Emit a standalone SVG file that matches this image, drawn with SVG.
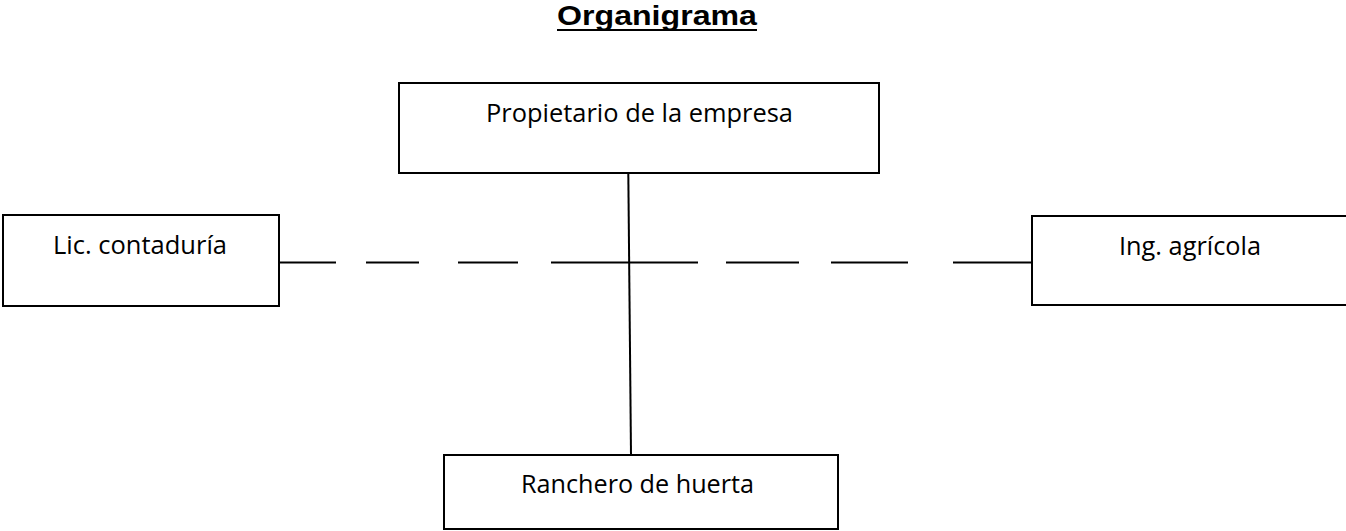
<svg xmlns="http://www.w3.org/2000/svg" width="1346" height="531" viewBox="0 0 1346 531">
<style>
.box{fill:#fff;stroke:#000;stroke-width:2}
.lbl{font-family:"Open Sans","Liberation Sans",sans-serif;font-size:26px;fill:#000}
.ln{stroke:#000;stroke-width:2;fill:none}
</style>
<rect width="1346" height="531" fill="#fff"/>
<g id="title">
<text x="557" y="25" font-family="Liberation Sans, Arial, sans-serif" font-weight="bold" font-size="28" textLength="200" lengthAdjust="spacingAndGlyphs">Organigrama</text>
<line x1="557" y1="30" x2="757" y2="30" stroke="#000" stroke-width="2.2"/>
</g>
<g id="connectors">
<path class="ln" d="M628.3 173 L631 455"/>
<path class="ln" d="M279 262.5H336M366 262.5H419M458 262.5H518M551 262.5H698M726 262.5H799M831 262.5H908M953 262.5H1032"/>
</g>
<g id="propietario">
<rect class="box" x="399" y="83" width="480" height="90"/>
<text class="lbl" x="486" y="122" textLength="307" lengthAdjust="spacingAndGlyphs">Propietario de la empresa</text>
</g>
<g id="contaduria">
<rect class="box" x="3" y="215" width="276" height="91"/>
<text class="lbl" x="53" y="254" textLength="174" lengthAdjust="spacingAndGlyphs">Lic. contaduría</text>
</g>
<g id="agricola">
<rect class="box" x="1032" y="216" width="330" height="89"/>
<text class="lbl" x="1119" y="255" textLength="142" lengthAdjust="spacingAndGlyphs">Ing. agrícola</text>
</g>
<g id="ranchero">
<rect class="box" x="444" y="455" width="394" height="74"/>
<text class="lbl" x="521" y="493" textLength="233" lengthAdjust="spacingAndGlyphs">Ranchero de huerta</text>
</g>
</svg>
